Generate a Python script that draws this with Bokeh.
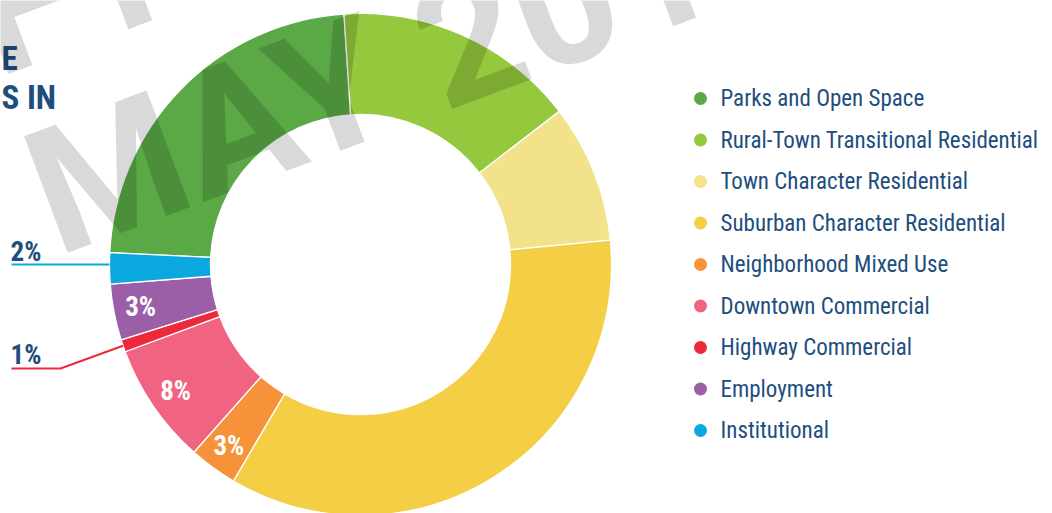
import math
from bokeh.plotting import figure
from bokeh.models import Range1d, ColumnDataSource
from bokeh.core.properties import value
from bokeh.embed import file_html
from bokeh.resources import INLINE

# ---- data ----
categories = [
    "Parks and Open Space",
    "Rural-Town Transitional Residential",
    "Town Character Residential",
    "Suburban Character Residential",
    "Neighborhood Mixed Use",
    "Downtown Commercial",
    "Highway Commercial",
    "Employment",
    "Institutional",
]
shares = [23.2, 15.6, 8.9, 35.0, 3.1, 7.8, 0.8, 3.6, 2.0]
share_labels = ["", "", "", "", "3%", "8%", "1%", "3%", "2%"]
colors = ["#5aa846", "#94c83d", "#f2e38b", "#f4cf45", "#f6923a",
          "#f06482", "#ec2a3c", "#9a5fa6", "#0aa8df"]
title_lines = ["E", "S IN"]
watermark_lines = ["DRAFT", "MAY 2019"]

# ---- layout ----
W, H = 1052, 513
NAVY = "#1d4e7e"
FONT = "Roboto Condensed"
cx, cy = 360, H - 264
r_in, r_out = 150, 251
start_compass = 272.7  # degrees clockwise from 12 o'clock


def Y(yi):
    return H - yi


p = figure(width=W, height=H, x_range=Range1d(0, W), y_range=Range1d(0, H),
           output_backend="svg", toolbar_location=None, min_border=0,
           x_axis_location=None, y_axis_location=None,
           outline_line_color=None, background_fill_color="white",
           border_fill_color="white")
p.grid.visible = False
p.styles = {"position": "absolute", "left": "0px", "top": "0px"}

total = sum(shares)
starts, ends, mids = [], [], []
acc = 0.0
for s in shares:
    c0 = start_compass + 360.0 * acc / total
    acc += s
    c1 = start_compass + 360.0 * acc / total
    starts.append(math.radians(90 - c0))
    ends.append(math.radians(90 - c1))
    mids.append(math.radians(90 - (c0 + c1) / 2))

src = ColumnDataSource(dict(start=starts, end=ends, color=colors, cat=categories))
p.annular_wedge(x=cx, y=cy, inner_radius=r_in, outer_radius=r_out,
                start_angle="start", end_angle="end", direction="clock",
                fill_color="color", line_color="white", line_width=1.3,
                source=src)

# ---- slice labels ----
in_x, in_y, in_t = [], [], []
for i, lab in enumerate(share_labels):
    if not lab:
        continue
    if shares[i] >= 2.5:
        r_lab = 224
        in_x.append(cx + r_lab * math.cos(mids[i]))
        in_y.append(cy + r_lab * math.sin(mids[i]))
        in_t.append(lab)
p.text(x=in_x, y=in_y, text=in_t, text_color="white", text_font=value(FONT),
       text_font_style="bold", text_font_size="27px", text_align="center",
       text_baseline="middle")

# outside labels with leader lines (small slices)
out_specs = {8: (251, 264, None), 6: (354, 368, 60)}
for i, (mid_yi, line_yi, bend_x) in out_specs.items():
    p.text(x=[10], y=[Y(mid_yi)], text=[share_labels[i]], text_color=NAVY,
           text_font=value(FONT), text_font_style="bold", text_font_size="27px",
           text_align="left", text_baseline="middle")
    if bend_x is None:
        ex = cx - math.sqrt(r_out ** 2 - (Y(line_yi) - cy) ** 2)
        p.line(x=[11, ex], y=[Y(line_yi), Y(line_yi)], line_color=colors[i], line_width=2)
    else:
        ex = cx + r_out * math.cos(mids[i])
        ey = cy + r_out * math.sin(mids[i])
        p.line(x=[11, bend_x, ex], y=[Y(line_yi), Y(line_yi), ey],
               line_color=colors[i], line_width=2)

# ---- title fragments (cropped in the reference) ----
p.text(x=[1, 1], y=[Y(58), Y(97)], text=title_lines, text_color=NAVY,
       text_font=value(FONT), text_font_style="bold", text_font_size="33px",
       text_align="left", text_baseline="middle")

# ---- legend ----
leg_y = [Y(98 + 41.5 * i) for i in range(len(categories))]
p.scatter(x=[700] * len(categories), y=leg_y, size=13, marker="circle",
          fill_color=colors, line_color=None)
p.text(x=[720] * len(categories), y=leg_y, text=categories, text_color=NAVY,
       text_font=value(FONT), text_font_size="23px", text_align="left",
       text_baseline="middle")

# ---- watermark ----
fs = 175
ang = math.radians(20.5)
dx, dy = math.cos(ang), math.sin(ang)      # along baseline
nx, ny = -math.sin(ang), math.cos(ang)     # "up" of the letters
half = 0.345 * fs                          # baseline -> middle anchor
ox, oy = 26, -20                           # placement correction
bx, by = 31 + ox, Y(237) + oy              # baseline start of "MAY 2019"
lead = 188                                 # baseline-to-baseline gap
ubx, uby = bx + lead * nx, by + lead * ny
t = (165 + ox - ubx) / dx
uex, uey = ubx + t * dx, uby + t * dy
p.text(x=[uex + half * nx], y=[uey + half * ny], text=[watermark_lines[0]],
       angle=ang, text_color="black", text_alpha=0.15, text_font=value("Roboto"),
       text_font_style="bold", text_font_size=f"{fs}px", text_align="right",
       text_baseline="middle")
p.text(x=[bx + half * nx], y=[by + half * ny], text=[watermark_lines[1]],
       angle=ang, text_color="black", text_alpha=0.15, text_font=value("Roboto"),
       text_font_style="bold", text_font_size=f"{fs}px", text_align="left",
       text_baseline="middle")

open("out.html", "w").write(file_html(p, INLINE))
